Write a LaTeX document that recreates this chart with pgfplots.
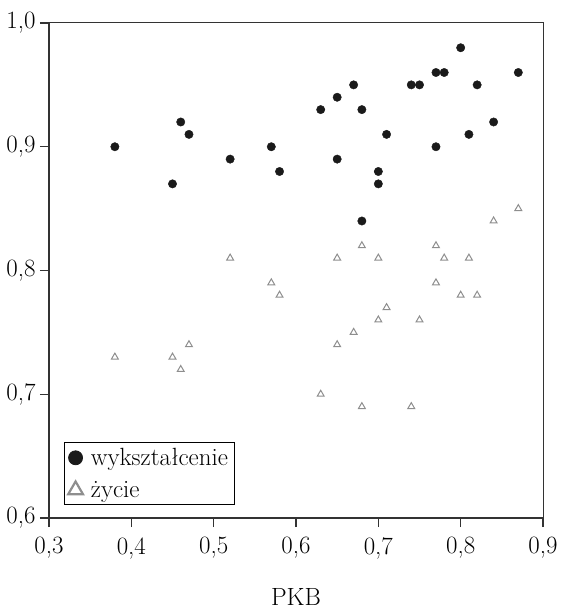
\documentclass[border=0pt]{standalone}
\usepackage{fontspec}
\usepackage{pgfplots}
\usepackage{pgfplotstable}
\pgfplotsset{compat=1.18}
\definecolor{dotc}{HTML}{1A1A1A}
\definecolor{tric}{HTML}{8E8E8E}
\definecolor{axc}{HTML}{333333}
\pgfplotstableread{
x y
0.38 0.90
0.45 0.87
0.46 0.92
0.47 0.91
0.52 0.89
0.57 0.90
0.58 0.88
0.63 0.93
0.65 0.94
0.65 0.89
0.67 0.95
0.68 0.93
0.68 0.84
0.70 0.88
0.70 0.87
0.71 0.91
0.74 0.95
0.75 0.95
0.77 0.96
0.78 0.96
0.77 0.90
0.80 0.98
0.81 0.91
0.82 0.95
0.84 0.92
0.87 0.96
}\wyksz
\pgfplotstableread{
x y
0.38 0.73
0.45 0.73
0.46 0.72
0.47 0.74
0.52 0.81
0.57 0.79
0.58 0.78
0.63 0.70
0.65 0.81
0.65 0.74
0.67 0.75
0.68 0.82
0.68 0.69
0.70 0.81
0.70 0.76
0.71 0.77
0.74 0.69
0.75 0.76
0.77 0.82
0.77 0.79
0.78 0.81
0.80 0.78
0.81 0.81
0.82 0.78
0.84 0.84
0.87 0.85
}\zycie
\begin{document}
\begin{tikzpicture}[font=\fontsize{25}{29}\selectfont]
\begin{axis}[
  width=494bp, height=495bp, scale only axis,
  xmin=0.3, xmax=0.9, ymin=0.6, ymax=1.0,
  xtick={0.3,0.4,0.5,0.6,0.7,0.8,0.9},
  xticklabels={{0,3},{0,4},{0,5},{0,6},{0,7},{0,8},{0,9}},
  ytick={0.6,0.7,0.8,0.9,1.0},
  yticklabels={{0,6},{0,7},{0,8},{0,9},{1,0}},
  xtick pos=bottom, ytick pos=left,
  tick align=outside,
  major tick length=9bp,
  tick style={line width=1.2bp, color=axc},
  axis line style={line width=1bp, color=axc},
  xticklabel style={yshift=-7bp},
  yticklabel style={xshift=-1bp},
  xlabel={PKB},
  every axis x label/.append style={yshift=-22bp},
  legend style={at={(0.03,0.026)}, anchor=south west, draw=black,
    line width=0.8bp, inner xsep=4bp, inner ysep=4bp, row sep=10bp,
    font=\fontsize{25}{29}\selectfont},
  legend cell align=left,
]
\addplot[only marks, mark=*, color=dotc, mark size=4.2bp,
  legend image post style={mark size=7bp}] table[x=x,y=y]{\wyksz};
\addlegendentry{\hspace{6bp}wykształcenie}
\addplot[only marks, mark=triangle, color=tric, mark size=4bp,
  mark options={line width=1bp},
  legend image post style={mark size=8.5bp, mark options={line width=2.2bp}}] table[x=x,y=y]{\zycie};
\addlegendentry{\hspace{6bp}życie}
\draw[line width=2bp, color=axc] (rel axis cs:0,1) -- (rel axis cs:0,0) -- (rel axis cs:1,0);
\coordinate (BL) at (rel axis cs:0,0);
\coordinate (TR) at (rel axis cs:1,1);
\end{axis}
\pgfresetboundingbox
\path ([shift={(-49bp,-93bp)}]BL) rectangle ([shift={(17bp,23bp)}]TR);
\end{tikzpicture}
\end{document}
